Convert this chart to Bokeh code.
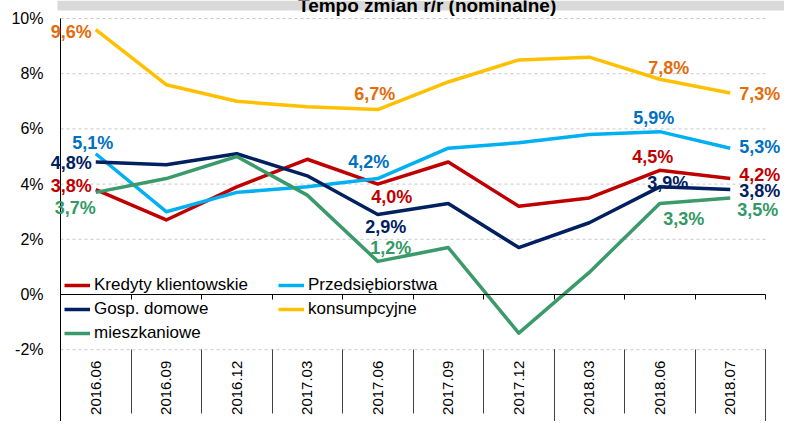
import math
from bokeh.plotting import figure
from bokeh.models import (Range1d, LinearAxis, FixedTicker, Legend, LegendItem,
                          BoxAnnotation, Label, CustomJSTickFormatter,
                          PrintfTickFormatter)
from bokeh.embed import file_html
from bokeh.resources import INLINE

# ---------------- data ----------------
dates = ["2016.06", "2016.09", "2016.12", "2017.03", "2017.06",
         "2017.09", "2017.12", "2018.03", "2018.06", "2018.07"]
kredyty = [3.8, 2.7, 3.9, 4.9, 4.0, 4.8, 3.2, 3.5, 4.5, 4.2]
przedsiebiorstwa = [5.1, 3.0, 3.7, 3.9, 4.2, 5.3, 5.5, 5.8, 5.9, 5.3]
gosp_domowe = [4.8, 4.7, 5.1, 4.3, 2.9, 3.3, 1.7, 2.6, 3.9, 3.8]
konsumpcyjne = [9.6, 7.6, 7.0, 6.8, 6.7, 7.7, 8.5, 8.6, 7.8, 7.3]
mieszkaniowe = [3.7, 4.2, 5.0, 3.6, 1.2, 1.7, -1.4, 0.8, 3.3, 3.5]
y_ticks = [-2, 0, 2, 4, 6, 8, 10]
title_text = "Tempo zmian r/r (nominalne)"

# ---------------- styles ----------------
FONT = "Liberation Sans"
W, H = 784, 421
PLOT_L, PLOT_R = 60, 765          # pixel extent of the category area
PY = 27.6                         # pixels per percentage point
PX = (PLOT_R - PLOT_L) / len(dates)
Y_TOP = 10 + 18 / PY
Y_BOTTOM = 10 - (H - 18) / PY
X0 = -0.5
X1 = len(dates) - 0.5
X_START = X0 - PLOT_L / PX
X_END = X1 + (W - PLOT_R) / PX

series = [
    # name, values, line colour, label colour, labels: (index, dx, dy_down, align)
    ("Kredyty klientowskie", kredyty, "#c00000", "#c00000",
     [(0, -4, -4, "right"), (4, 14, 13, "center"), (8, -7, -13, "center"), (9, 9, -4, "left")]),
    ("Przedsiębiorstwa", przedsiebiorstwa, "#00b0f0", "#0070c0",
     [(0, -3, -11, "center"), (4, -9, -17, "center"), (8, -6, -14, "center"), (9, 9, -1, "left")]),
    ("Gosp. domowe", gosp_domowe, "#002060", "#002060",
     [(0, -4, 1, "right"), (4, 8, 13, "center"), (8, 8, -4, "center"), (9, 9, 1, "left")]),
    ("konsumpcyjne", konsumpcyjne, "#ffc000", "#e46c0a",
     [(0, -4, 2, "right"), (4, -3, -16, "center"), (8, 9, -11, "center"), (9, 9, 1, "left")]),
    ("mieszkaniowe", mieszkaniowe, "#3a9a6a", "#339966",
     [(0, 0, 16, "right"), (4, 13, -13, "center"), (8, 24, 16, "center"), (9, 7, 12, "left")]),
]
legend_order = ["Kredyty klientowskie", "Gosp. domowe", "mieszkaniowe",
                "Przedsiębiorstwa", "konsumpcyjne"]

xs = list(range(len(dates)))
boundaries = [i + 0.5 for i in xs]

p = figure(width=W, height=H,
           x_range=Range1d(X_START, X_END),
           y_range=Range1d(Y_BOTTOM, Y_TOP),
           x_axis_type=None, y_axis_type=None,
           output_backend="svg", toolbar_location=None,
           min_border_left=0, min_border_right=0,
           min_border_top=0, min_border_bottom=0,
           outline_line_color=None)

# title band (cut at the top, as in the source image)
band = BoxAnnotation(left=X0 - 3 / PX, bottom=Y_TOP - 10 / PY, fill_color="#d9d9d9",
                     fill_alpha=1.0, line_color=None)
p.add_layout(band)
title = Label(x=4.7, y=Y_TOP - 5 / PY, text=title_text,
              text_font=FONT, text_font_style="bold", text_font_size="19px",
              text_align="center", text_baseline="alphabetic", text_color="black")
p.add_layout(title)

# dashed horizontal grid lines over the category area
grid_vals = [t for t in y_ticks if t != 0]
p.segment(x0=[X0] * len(grid_vals), x1=[X1] * len(grid_vals), y0=grid_vals, y1=grid_vals,
          line_color="#c8c8c8", line_dash="3 3", line_width=1, level="underlay")

# y axis
yaxis = LinearAxis(fixed_location=X0, ticker=FixedTicker(ticks=y_ticks),
                   formatter=PrintfTickFormatter(format="%d%%"),
                   bounds=(Y_BOTTOM, 10),
                   axis_line_color="black", axis_line_width=1,
                   major_tick_out=0, major_tick_in=0, minor_tick_out=0, minor_tick_in=0,
                   major_label_standoff=17,
                   major_label_text_font=FONT, major_label_text_font_size="16px",
                   major_label_text_color="black")
p.add_layout(yaxis, "left")

empty = CustomJSTickFormatter(code="return ''")

# zero axis with boundary ticks
zaxis = LinearAxis(fixed_location=0, ticker=FixedTicker(ticks=boundaries),
                   bounds=(X0, X1),
                   formatter=empty, axis_line_color="black", axis_line_width=1,
                   major_tick_out=5, major_tick_in=0, minor_tick_out=0, minor_tick_in=0,
                   major_tick_line_color="black")
p.add_layout(zaxis, "below")

# separators below the plot
saxis = LinearAxis(fixed_location=-2, ticker=FixedTicker(ticks=boundaries),
                   formatter=empty, axis_line_color=None,
                   major_tick_out=64, major_tick_in=0, minor_tick_out=0, minor_tick_in=0,
                   major_tick_line_color="#404040")
p.add_layout(saxis, "below")
laxis = LinearAxis(fixed_location=-2, ticker=FixedTicker(ticks=[boundaries[6], boundaries[9]]),
                   formatter=empty, axis_line_color=None,
                   major_tick_out=100, major_tick_in=0, minor_tick_out=0, minor_tick_in=0,
                   major_tick_line_color="#404040")
p.add_layout(laxis, "below")

# category labels
caxis = LinearAxis(fixed_location=-2, ticker=FixedTicker(ticks=xs),
                   major_label_overrides={i: d for i, d in zip(xs, dates)},
                   major_label_orientation=math.pi / 2,
                   axis_line_color=None, major_tick_line_color=None,
                   major_tick_out=0, major_tick_in=0, minor_tick_out=0, minor_tick_in=0,
                   major_label_standoff=11,
                   major_label_text_font=FONT, major_label_text_font_size="15px",
                   major_label_text_color="black")
p.add_layout(caxis, "below")

# lines
renderers = {}
for name, vals, lc, tc, labs in series:
    r = p.line(x=xs, y=vals, line_color=lc, line_width=3.5, line_join="round")
    renderers[name] = r

# data labels
for name, vals, lc, tc, labs in series:
    for i, dx, dy, align in labs:
        lab = Label(x=xs[i], y=vals[i], x_offset=dx, y_offset=-dy,
                    text=f"{vals[i]:.1f}".replace(".", ",") + "%",
                    text_align=align, text_baseline="middle", text_color=tc,
                    text_font=FONT, text_font_style="bold", text_font_size="18px")
        p.add_layout(lab)

legend = Legend(items=[LegendItem(label=n, renderers=[renderers[n]]) for n in legend_order],
                location=(PLOT_L + 4, 78), ncols=2, orientation="vertical",
                background_fill_alpha=0, border_line_color=None,
                label_text_font=FONT, label_text_font_size="17px", label_text_color="black",
                padding=0, margin=0, spacing=4, label_height=20, glyph_height=20,
                glyph_width=26, label_standoff=4, label_width=180)
p.add_layout(legend)

open("out.html", "w").write(file_html(p, INLINE))
